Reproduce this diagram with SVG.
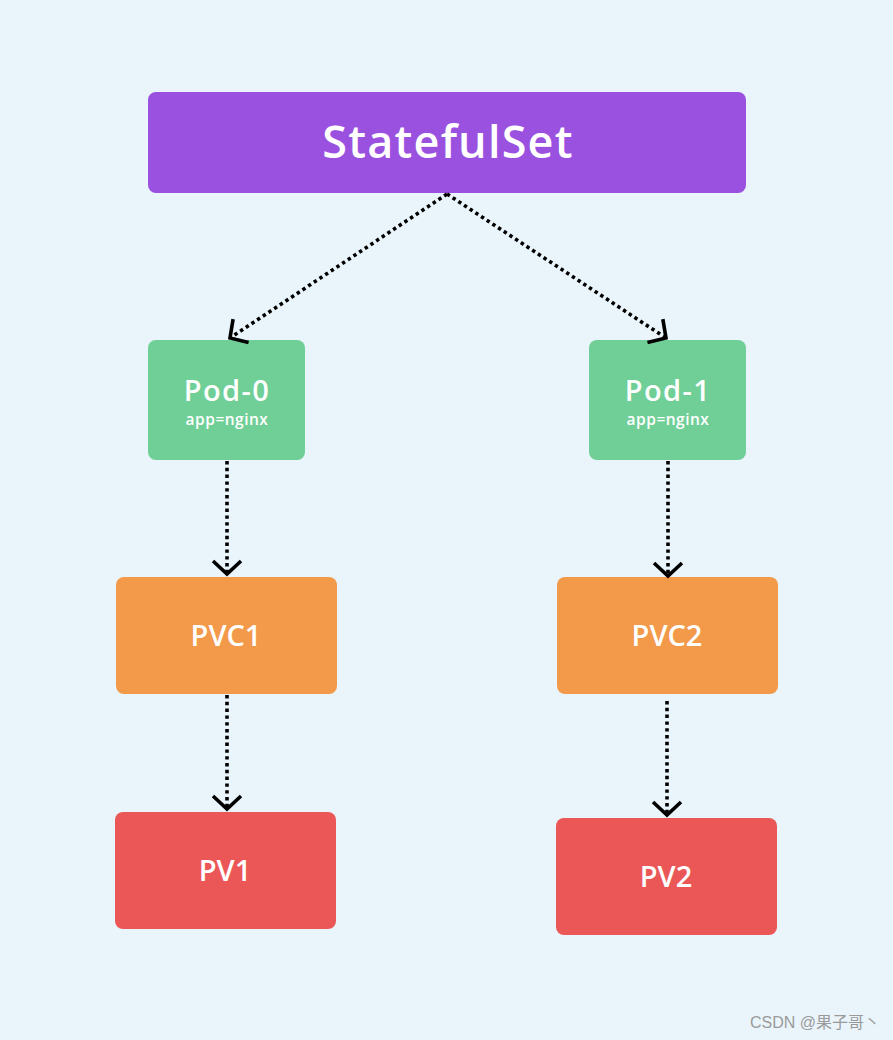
<svg xmlns="http://www.w3.org/2000/svg" width="893" height="1040" viewBox="0 0 893 1040">
<style>
.t{fill:#fff;font-family:"Open Sans","Noto Sans",sans-serif;font-weight:600;text-anchor:middle}
.s{font-size:15.5px;letter-spacing:0.5px}
.c{fill:none;stroke:#000;stroke-width:3.6;stroke-dasharray:3.4 3.4}
</style>
<defs>
<marker id="ah" markerUnits="userSpaceOnUse" markerWidth="34" markerHeight="34" refX="16" refY="17" orient="auto" viewBox="0 0 34 34">
<path d="M3,3 L16,17 L3,31" fill="none" stroke="#000" stroke-width="3.6" stroke-linecap="butt" stroke-linejoin="miter"/>
</marker>
</defs>
<rect width="893" height="1040" fill="#eaf5fb"/>
<g id="statefulset"><rect x="148" y="92" width="598" height="101" rx="8" fill="#9b51e0"/><text class="t" x="448" y="158" font-size="45" letter-spacing="1.2">StatefulSet</text></g>
<g id="pod0"><rect x="148" y="340" width="157" height="120" rx="8" fill="#6fcf97"/><text class="t" x="227" y="401" font-size="29" letter-spacing="1.4">Pod-0</text><text class="t s" x="227" y="425">app=nginx</text></g>
<g id="pod1"><rect x="589" y="340" width="157" height="120" rx="8" fill="#6fcf97"/><text class="t" x="668" y="401" font-size="29" letter-spacing="1.4">Pod-1</text><text class="t s" x="668" y="425">app=nginx</text></g>
<g id="pvc1"><rect x="116" y="577" width="221" height="117" rx="8" fill="#f2994a"/><text class="t" x="226" y="646" font-size="29">PVC1</text></g>
<g id="pvc2"><rect x="557" y="577" width="221" height="117" rx="8" fill="#f2994a"/><text class="t" x="667" y="646" font-size="29">PVC2</text></g>
<g id="pv1"><rect x="115" y="812" width="221" height="117" rx="8" fill="#eb5757"/><text class="t" x="225" y="881" font-size="29">PV1</text></g>
<g id="pv2"><rect x="556" y="818" width="221" height="117" rx="8" fill="#eb5757"/><text class="t" x="666" y="887" font-size="29">PV2</text></g>
<g id="connectors">
<line class="c" x1="447" y1="194" x2="230" y2="338" marker-end="url(#ah)"/>
<line class="c" x1="447" y1="194" x2="666" y2="338" marker-end="url(#ah)"/>
<line class="c" x1="227" y1="461" x2="227" y2="574" marker-end="url(#ah)"/>
<line class="c" x1="668" y1="461" x2="668" y2="576" marker-end="url(#ah)"/>
<line class="c" x1="227" y1="695" x2="227" y2="809" marker-end="url(#ah)"/>
<line class="c" x1="667" y1="701" x2="667" y2="815" marker-end="url(#ah)"/>
</g>
<text x="880" y="1028" font-size="16" fill="#9a9a9a" text-anchor="end" font-family="'Liberation Sans','Noto Sans CJK SC',sans-serif">CSDN @果子哥丶</text>
</svg>
